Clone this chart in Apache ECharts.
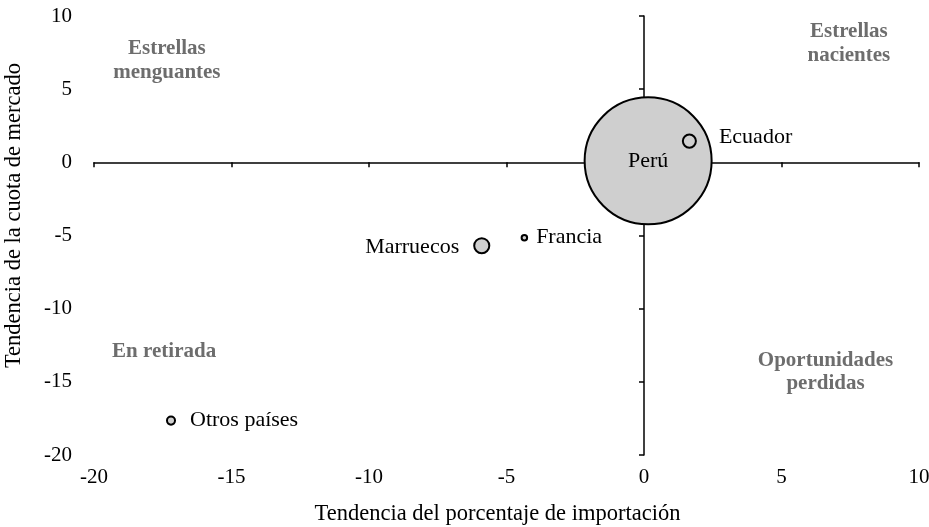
<!DOCTYPE html>
<html>
<head>
<meta charset="utf-8">
<script src="https://cdn.jsdelivr.net/npm/echarts@6/dist/echarts.min.js"></script>
<style>
  html, body { margin: 0; padding: 0; background: #fff; }
  #chart { width: 929px; height: 527px; }
</style>
</head>
<body>
<div id="chart"></div>
<script>
// datos
var paises = ['Perú', 'Ecuador', 'Marruecos', 'Francia', 'Otros países']
var tendImport = [0.15, 1.65, -5.9, -4.35, -17.2]
var tendCuota = [0.1, 1.45, -5.7, -5.15, -17.65]
var participacion = [85, 0.9, 1.2, 0.16, 0.34]

var ejeTicks = [-20, -15, -10, -5, 0, 5, 10]

var cuadrantes = ['Estrellas\nmenguantes', 'Estrellas\nnacientes', 'En retirada', 'Oportunidades\nperdidas']
var cuadX = [-17.35, 7.45, -17.45, 6.6]
var cuadY = [6.95, 8.1, -12.95, -14.35]

var font = 'Liberation Serif'

// donde va la etiqueta de cada burbuja
var etiquetas = {
  'Perú': { position: 'inside', distance: 0 },
  'Ecuador': { position: 'right', distance: 22, offset: [0, -4] },
  'Marruecos': { position: 'left', distance: 14, offset: [0, 1] },
  'Francia': { position: 'right', distance: 8, offset: [0, 0] },
  'Otros países': { position: 'right', distance: 14, offset: [0, 0] }
}

var burbujas = paises.map(function (p, i) {
  return {
    name: p,
    value: [tendImport[i], tendCuota[i], participacion[i]],
    label: etiquetas[p]
  }
})

var textos = cuadrantes.map(function (t, i) {
  return { name: t, value: [cuadX[i], cuadY[i]] }
})

var ejeBase = {
  type: 'value',
  min: ejeTicks[0],
  max: ejeTicks[ejeTicks.length - 1],
  interval: 5,
  splitLine: { show: false }
}

var option = {
  animation: false,
  textStyle: { fontFamily: font },
  grid: { left: 94, right: 10, top: 16, bottom: 72, outerBoundsMode: 'none', containLabel: false },
  xAxis: [
    Object.assign({}, ejeBase, {
      position: 'bottom',
      axisLine: { show: false, onZero: false },
      axisTick: { show: false },
      axisLabel: { margin: 12, color: '#000', fontSize: 21, fontFamily: font },
      name: 'Tendencia del porcentaje de importación',
      nameLocation: 'middle',
      nameGap: 48,
      nameTextStyle: { color: '#000', fontSize: 22.5, fontFamily: font, padding: [0, 18, 0, 0] }
    }),
    Object.assign({}, ejeBase, {
      position: 'bottom',
      axisLine: { show: true, onZero: true, lineStyle: { color: '#000', width: 1.5 } },
      axisTick: { show: true, length: 5, lineStyle: { color: '#000', width: 1.5 } },
      axisLabel: { show: false }
    })
  ],
  yAxis: [
    Object.assign({}, ejeBase, {
      position: 'left',
      axisLine: { show: false, onZero: false },
      axisTick: { show: false },
      axisLabel: { margin: 22, color: '#000', fontSize: 21, fontFamily: font },
      name: 'Tendencia de la cuota de mercado',
      nameLocation: 'middle',
      nameGap: 68,
      nameTextStyle: { color: '#000', fontSize: 22.5, fontFamily: font, padding: [0, 0, 0, 40] }
    }),
    Object.assign({}, ejeBase, {
      position: 'left',
      axisLine: { show: true, onZero: true, lineStyle: { color: '#000', width: 1.5 } },
      axisTick: { show: true, length: 5, lineStyle: { color: '#000', width: 1.5 } },
      axisLabel: { show: false }
    })
  ],
  series: [
    {
      type: 'scatter',
      xAxisIndex: 0,
      yAxisIndex: 0,
      data: burbujas,
      symbolSize: function (v) {
        // area proporcional a la participacion
        return Math.sqrt(v[2] / participacion[0]) * 127
      },
      itemStyle: { color: '#cfcfcf', borderColor: '#000', borderWidth: 2, opacity: 1 },
      label: {
        show: true,
        formatter: '{b}',
        color: '#000',
        fontSize: 22,
        fontFamily: font
      },
      emphasis: { disabled: true },
      z: 3
    },
    {
      type: 'scatter',
      xAxisIndex: 0,
      yAxisIndex: 0,
      data: textos,
      symbolSize: 0,
      silent: true,
      label: {
        show: true,
        position: 'inside',
        formatter: '{b}',
        color: '#484848',
        fontWeight: 'bold',
        fontSize: 21,
        lineHeight: 23.5,
        align: 'center',
        fontFamily: font
      },
      z: 2
    }
  ]
}

var myChart = echarts.init(document.getElementById('chart'))
myChart.setOption(option)
</script>
</body>
</html>
